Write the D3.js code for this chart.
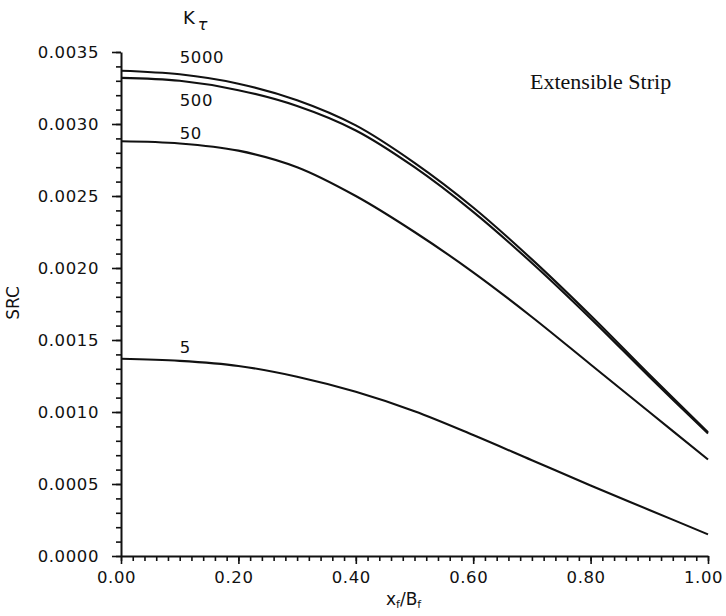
<!DOCTYPE html>
<html>
<head>
<meta charset="utf-8">
<script src="https://cdn.jsdelivr.net/npm/d3@7"></script>
<style>
  body { margin: 0; background: #fff; }
  text { font-family: "DejaVu Sans", sans-serif; fill: #111; }
</style>
</head>
<body>
<div id="chart"></div>
<script>
// data (SRC values in units of 1e-3)
var xs = [0.0, 0.1, 0.2, 0.3, 0.4, 0.5, 0.6, 0.7, 0.8, 0.9, 1.0];
var k5000 = [3.37, 3.345, 3.28, 3.165, 2.99, 2.73, 2.42, 2.06, 1.67, 1.26, 0.86];
var k500  = [3.32, 3.30, 3.235, 3.125, 2.955, 2.70, 2.39, 2.035, 1.65, 1.245, 0.85];
var k50   = [2.88, 2.865, 2.815, 2.70, 2.50, 2.25, 1.97, 1.66, 1.33, 1.00, 0.67];
var k5    = [1.37, 1.355, 1.32, 1.245, 1.14, 1.005, 0.84, 0.665, 0.49, 0.32, 0.15];
var seriesNames = ["5000", "500", "50", "5"];
var yTicks = [0, 0.0005, 0.0010, 0.0015, 0.0020, 0.0025, 0.0030, 0.0035];
var xTicks = [0, 0.2, 0.4, 0.6, 0.8, 1.0];

// size
var width = 726;
var height = 616;
var x0 = 121, x1 = 708;
var y0 = 556, y1 = 52;

var svg = d3.select("#chart")
            .append("svg")
            .attr("width", width)
            .attr("height", height);

var xScale = d3.scaleLinear().domain([0, 1]).range([x0, x1]);
var yScale = d3.scaleLinear().domain([0, 0.0035]).range([y0, y1]);

// minor ticks
var yMinor = d3.range(0, 36).map(function(i) { return i * 0.0001; });
var xMinor = d3.range(0, 51).map(function(i) { return i * 0.02; });

svg.append("g")
   .attr("transform", "translate(" + x0 + ",0)")
   .call(d3.axisLeft(yScale).tickValues(yMinor).tickSize(5).tickFormat(""))
   .call(function(g) { g.select(".domain").remove(); });
svg.append("g")
   .attr("transform", "translate(0," + y0 + ")")
   .call(d3.axisBottom(xScale).tickValues(xMinor).tickSize(5).tickFormat(""))
   .call(function(g) { g.select(".domain").remove(); });

// major ticks + labels
var yAxis = svg.append("g")
   .attr("transform", "translate(" + x0 + ",0)")
   .call(d3.axisLeft(yScale).tickValues(yTicks).tickSize(9).tickPadding(13)
           .tickFormat(d3.format(".4f")).tickSizeOuter(0));
var xAxis = svg.append("g")
   .attr("transform", "translate(0," + y0 + ")")
   .call(d3.axisBottom(xScale).tickValues(xTicks).tickSize(8).tickPadding(5)
           .tickFormat(d3.format(".2f")).tickSizeOuter(0));

svg.selectAll(".tick line").attr("stroke", "#111").attr("stroke-width", 1.6);
svg.selectAll(".domain").attr("stroke", "#111").attr("stroke-width", 2);
svg.selectAll(".tick text")
   .attr("font-family", "DejaVu Sans")
   .attr("font-size", 16.5)
   .attr("letter-spacing", 0.6)
   .attr("fill", "#111");
yAxis.selectAll(".tick text").attr("dy", "0.35em");
xAxis.selectAll(".tick text").attr("dy", "0.85em").attr("dx", -5);

// curves
var line = d3.line()
             .x(function(d) { return xScale(d[0]); })
             .y(function(d) { return yScale(d[1] / 1000); })
             .curve(d3.curveCatmullRom.alpha(0.5));
var allSeries = [k5000, k500, k50, k5];
allSeries.forEach(function(s) {
  svg.append("path")
     .datum(xs.map(function(x, i) { return [x, s[i]]; }))
     .attr("fill", "none")
     .attr("stroke", "#111")
     .attr("stroke-width", 2.1)
     .attr("d", line);
});

// curve labels (x in data units, y offset from curve start in px)
var labelOffsets = [-8, 28, -2, -6];
allSeries.forEach(function(s, i) {
  svg.append("text")
     .attr("x", xScale(0.1))
     .attr("y", yScale(s[0] / 1000) + labelOffsets[i])
     .attr("font-size", 16.5)
     .attr("letter-spacing", 0.6)
     .text(seriesNames[i]);
});

// K_tau header
var kt = svg.append("text")
            .attr("x", 183)
            .attr("y", 24)
            .attr("font-size", 18);
kt.append("tspan").text("K");
kt.append("tspan").attr("dx", 3).attr("dy", 6).attr("font-size", 16)
  .attr("font-style", "italic").text("τ");

// panel note
svg.append("text")
   .attr("x", 530)
   .attr("y", 89)
   .style("font-family", "'Liberation Serif', serif")
   .attr("font-size", 22)
   .text("Extensible Strip");

// axis titles
svg.append("text")
   .attr("transform", "translate(19,303) rotate(-90)")
   .attr("text-anchor", "middle")
   .attr("font-size", 17)
   .text("SRC");

var xt = svg.append("text")
            .attr("x", 386)
            .attr("y", 605)
            .attr("font-size", 17);
xt.append("tspan").text("x");
xt.append("tspan").attr("dy", 3).attr("font-size", 11).text("f");
xt.append("tspan").attr("dy", -3).text("/B");
xt.append("tspan").attr("dy", 3).attr("font-size", 11).text("f");
</script>
</body>
</html>
